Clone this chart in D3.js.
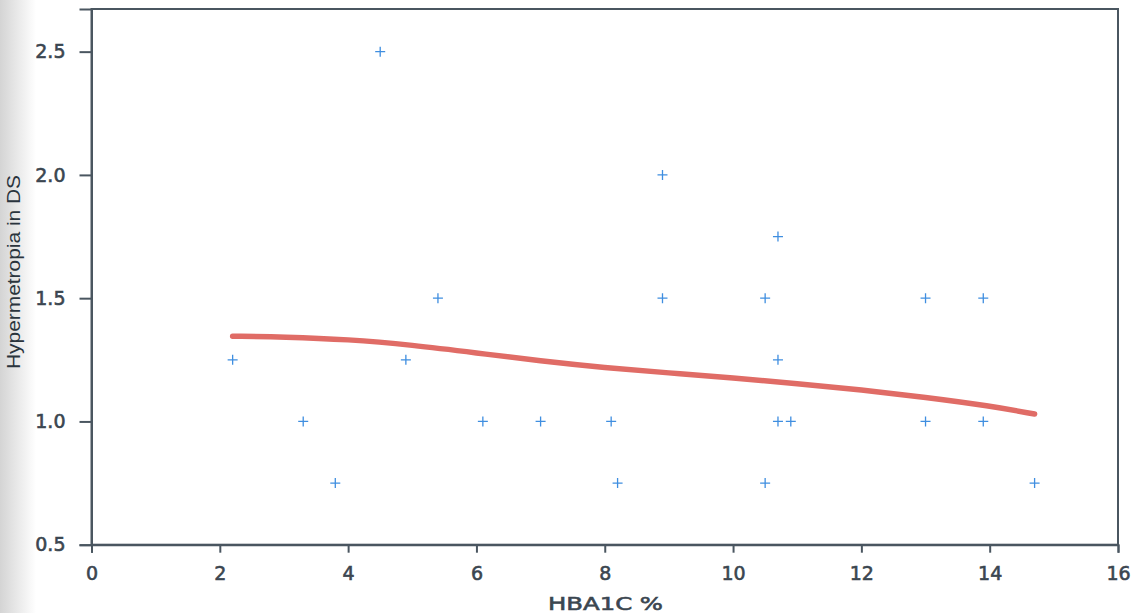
<!DOCTYPE html>
<html><head><meta charset="utf-8">
<script src="https://cdn.jsdelivr.net/npm/d3@7"></script>
<style>body{margin:0;background:#fff}svg{display:block}</style>
</head><body>
<script>
const xValues = [2.2,3.3,3.8,4.5,4.9,5.4,6.1,7.0,8.1,8.2,8.9,8.9,10.5,10.7,10.7,10.5,10.7,10.9,13.0,13.0,13.9,13.9,14.7];
const yValues = [1.25,1.0,0.75,2.5,1.25,1.5,1.0,1.0,1.0,0.75,2.0,1.5,1.5,1.75,1.25,0.75,1.0,1.0,1.5,1.0,1.5,1.0,0.75];
const fitX = [2.2,3,4,5,6,7,8,9,10,11,12,13,14,14.7];
const fitY = [1.346,1.343,1.333,1.310,1.278,1.245,1.218,1.197,1.176,1.154,1.128,1.098,1.063,1.030];
const xTicks = [0,2,4,6,8,10,12,14,16];
const yTicks = [0.5,1.0,1.5,2.0,2.5];

const W=1139,H=613;
const svg=d3.select("body").append("svg").attr("width",W).attr("height",H);
const defs=svg.append("defs");
const g0=defs.append("linearGradient").attr("id","shade").attr("x1","0").attr("x2","1");
g0.append("stop").attr("offset","0").attr("stop-color","#d4d4d4");
g0.append("stop").attr("offset","1").attr("stop-color","#ffffff");
svg.append("rect").attr("width",W).attr("height",H).attr("fill","#fff");
svg.append("rect").attr("width",36).attr("height",H).attr("fill","url(#shade)");

const L=91.5,R=1118,T=9,B=544.7;
const x=d3.scaleLinear().domain([0,16]).range([L,R]);
const y=d3.scaleLinear().domain([0.5,2.673]).range([B,T]);
const axCol="#4a5660";
const txtCol="#3b4650";
const font="DejaVu Sans, Verdana, sans-serif";

// frame
svg.append("rect").attr("x",L).attr("y",T).attr("width",R-L).attr("height",B-T)
  .attr("fill","none").attr("stroke",axCol).attr("stroke-width",2);

const xa=svg.append("g").attr("transform",`translate(0,${B})`)
  .call(d3.axisBottom(x).tickValues(xTicks).tickFormat(d3.format("d")).tickSize(8).tickPadding(14));
const ya=svg.append("g").attr("transform",`translate(${L},0)`)
  .call(d3.axisLeft(y).tickValues(yTicks).tickFormat(d3.format(".1f")).tickSize(12).tickPadding(14));
[xa,ya].forEach(a=>{
  a.select(".domain").attr("stroke",axCol).attr("stroke-width",2);
  a.selectAll(".tick line").attr("stroke",axCol).attr("stroke-width",2);
  a.selectAll(".tick text").attr("fill",txtCol).attr("font-family",font)
   .attr("font-size",19).attr("stroke",txtCol).attr("stroke-width",0.6);
});

// fit line
svg.append("path").datum(fitX.map((d,i)=>[d,fitY[i]]))
  .attr("d",d3.line().x(d=>x(d[0])).y(d=>y(d[1])).curve(d3.curveBasis))
  .attr("fill","none").attr("stroke","#e06c66").attr("stroke-width",5.5).attr("stroke-linecap","round");

// points
const pts=svg.append("g");
xValues.forEach((v,i)=>{
  const px=x(v),py=y(yValues[i]);
  pts.append("path").attr("d",`M${px-5},${py}H${px+5}M${px},${py-5}V${py+5}`)
    .attr("stroke","#3f8ee0").attr("stroke-width",1.3).attr("fill","none");
});

svg.append("text").attr("x",548).attr("y",610)
  .attr("font-family",font).attr("font-size",18.5)
  .attr("textLength",115).attr("lengthAdjust","spacingAndGlyphs")
  .attr("stroke",txtCol).attr("stroke-width",0.6)
  .attr("fill",txtCol).text("HBA1C %");
svg.append("text").attr("transform","translate(20,272) rotate(-90)").attr("text-anchor","middle")
  .attr("font-family","Liberation Sans, Arial, sans-serif").attr("font-size",18)
  .attr("textLength",194).attr("lengthAdjust","spacingAndGlyphs")
  .attr("fill","#2a343d").text("Hypermetropia in DS");
</script>
</body></html>
